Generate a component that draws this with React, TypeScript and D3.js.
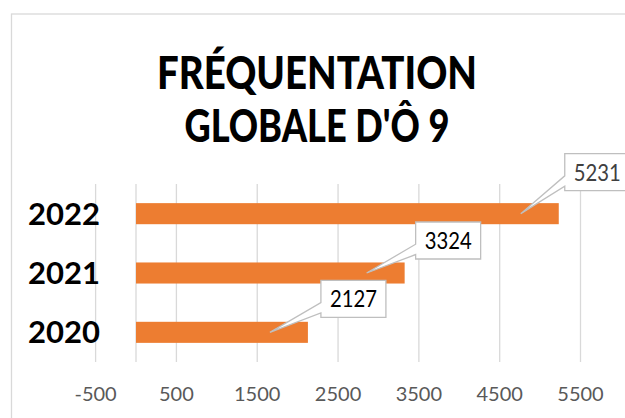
import { useEffect, useRef } from "react";
import * as d3 from "d3";

const years = ["2022", "2021", "2020"];
const visits = [5231, 3324, 2127];
const tickValues = [-500, 500, 1500, 2500, 3500, 4500, 5500];
const titleLines = ["FRÉQUENTATION", "GLOBALE D'Ô 9"];

// label box offsets from the wedge tip (dx, dy) — hand tuned like the excel callouts
const labelOffsets: [number, number][] = [[44, -60], [49, -51], [51, -52]];
const labelColors = ["#404040", "#000000", "#000000"];

const W = 625;
const H = 418;

export default function App() {
  const svgRef = useRef<SVGSVGElement>(null);

  useEffect(() => {
    if (!svgRef.current) return;
    const svg = d3.select(svgRef.current);
    svg.selectAll("*").remove();

    const plot = { left: 95.6, right: 580.5, top: 184, bottom: 362 };
    const x = d3.scaleLinear().domain([-500, 5500]).range([plot.left, plot.right]);
    const y = d3.scaleBand<string>().domain(years).range([plot.top, plot.bottom]).padding(0);
    const barH = y.bandwidth() * 0.355;

    // chart frame
    svg.append("rect")
      .attr("x", 11.5).attr("y", 14).attr("width", W).attr("height", H)
      .attr("fill", "#fff").attr("stroke", "#d9d9d9").attr("stroke-width", 1.3);

    // title
    const tl = [320, 265];
    svg.selectAll(".title")
      .data(titleLines)
      .join("text")
      .attr("class", "title")
      .attr("x", 317)
      .attr("y", (_, i) => 89 + i * 53)
      .attr("text-anchor", "middle")
      .attr("font-family", "Lato, sans-serif")
      .attr("font-weight", 900)
      .attr("font-size", 45)
      .attr("textLength", (_, i) => tl[i])
      .attr("lengthAdjust", "spacingAndGlyphs")
      .attr("fill", "#000")
      .text((d) => d);

    // gridlines + value axis line at 0
    svg.selectAll(".grid")
      .data([...tickValues, 0])
      .join("line")
      .attr("class", "grid")
      .attr("x1", (d) => x(d)).attr("x2", (d) => x(d))
      .attr("y1", plot.top).attr("y2", plot.bottom)
      .attr("stroke", "#d9d9d9").attr("stroke-width", 1.3);

    // tick labels
    svg.selectAll(".tick")
      .data(tickValues)
      .join("text")
      .attr("class", "tick")
      .attr("x", (d) => x(d))
      .attr("y", 401)
      .attr("text-anchor", "middle")
      .attr("font-family", "Lato, sans-serif")
      .attr("font-size", 20)
      .attr("fill", "#595959")
      .text((d) => String(d));

    // year labels
    svg.selectAll(".year")
      .data(years)
      .join("text")
      .attr("class", "year")
      .attr("x", 100)
      .attr("y", (d) => y(d)! + y.bandwidth() / 2 + 11)
      .attr("text-anchor", "end")
      .attr("font-family", "Lato, sans-serif")
      .attr("font-weight", 700)
      .attr("font-size", 31)
      .attr("fill", "#000")
      .text((d) => d);

    // bars
    svg.selectAll(".bar")
      .data(years)
      .join("rect")
      .attr("class", "bar")
      .attr("x", x(0))
      .attr("y", (d) => y(d)! + (y.bandwidth() - barH) / 2)
      .attr("width", (_, i) => x(visits[i]) - x(0))
      .attr("height", barH)
      .attr("fill", "#ED7D31");

    // callouts
    const boxW = 65;
    const boxH = 37;
    years.forEach((yr, i) => {
      const tx = x(visits[i]) - 38;
      const ty = y(yr)! + y.bandwidth() / 2;
      const [dx, dy] = labelOffsets[i];
      const bx = tx + dx;
      const by = ty + dy;
      const path = d3.path();
      path.moveTo(bx, by);
      path.lineTo(bx + boxW, by);
      path.lineTo(bx + boxW, by + boxH);
      path.lineTo(bx, by + boxH);
      path.lineTo(bx, by + boxH * 0.88);
      path.lineTo(tx, ty);
      path.lineTo(bx, by + boxH * 0.6);
      path.closePath();
      svg.append("path")
        .attr("d", path.toString())
        .attr("fill", "#fff")
        .attr("stroke", "#bfbfbf")
        .attr("stroke-width", 1.3)
        .attr("stroke-linejoin", "miter");
      svg.append("text")
        .attr("x", bx + boxW / 2)
        .attr("y", by + boxH / 2 + 8.5)
        .attr("text-anchor", "middle")
        .attr("font-family", "Lato, sans-serif")
        .attr("font-size", 23)
        .attr("textLength", 47)
        .attr("lengthAdjust", "spacingAndGlyphs")
        .attr("fill", labelColors[i])
        .text(String(visits[i]));
    });
  }, []);

  return (
    <div style={{ position: "absolute", left: 0, top: 0, width: W, height: H, overflow: "hidden" }}>
      <svg ref={svgRef} width={W} height={H} style={{ display: "block", background: "#fff" }} />
    </div>
  );
}
